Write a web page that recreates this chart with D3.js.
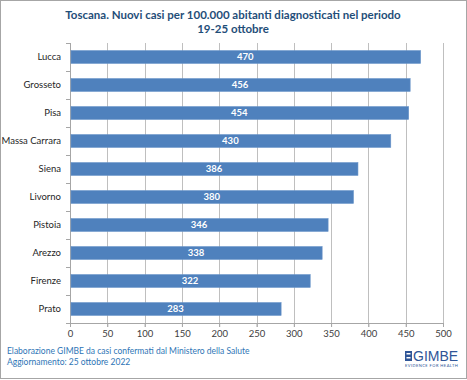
<!DOCTYPE html>
<html>
<head>
<meta charset="utf-8">
<script src="https://cdn.jsdelivr.net/npm/d3@7"></script>
<style>
  body { margin: 0; background: #fff; }
  svg { display: block; font-family: Lato, "Open Sans", "Liberation Sans", sans-serif; }
</style>
</head>
<body>
<svg id="chart" width="467" height="380"></svg>
<script>
// data
var provinces = ["Lucca", "Grosseto", "Pisa", "Massa Carrara", "Siena", "Livorno", "Pistoia", "Arezzo", "Firenze", "Prato"];
var cases = [470, 456, 454, 430, 386, 380, 346, 338, 322, 283];
var xTicks = [0, 50, 100, 150, 200, 250, 300, 350, 400, 450, 500];
var titleLines = ["Toscana. Nuovi casi per 100.000 abitanti diagnosticati nel periodo", "19-25 ottobre"];
var footLines = ["Elaborazione GIMBE da casi confermati dal Ministero della Salute", "Aggiornamento: 25 ottobre 2022"];

var svg = d3.select("#chart");
var plotLeft = 70, plotRight = 443, plotTop = 43, plotBottom = 323;

// frame
svg.append("rect")
    .attr("x", 0.5).attr("y", 0.5)
    .attr("width", 466).attr("height", 378)
    .attr("fill", "#fff")
    .attr("stroke", "#a6a6a6");

var x = d3.scaleLinear().domain([0, 500]).range([plotLeft, plotRight]);
var y = d3.scaleBand().domain(provinces).range([plotTop, plotBottom]).paddingInner(0.54).paddingOuter(0.27);

// title
svg.append("g").selectAll("text")
    .data(titleLines)
    .enter()
    .append("text")
    .attr("x", 233)
    .attr("y", function (d, i) {return 19 + i * 14;})
    .attr("text-anchor", "middle")
    .attr("font-size", 11.5)
    .attr("font-weight", "bold")
    .attr("fill", "#1f4e79")
    .text(function (d) {return d;});

// gridlines
svg.append("g").selectAll("line")
    .data(xTicks)
    .enter()
    .append("line")
    .attr("x1", function (d) {return Math.round(x(d)) + 0.5;})
    .attr("x2", function (d) {return Math.round(x(d)) + 0.5;})
    .attr("y1", plotTop)
    .attr("y2", plotBottom + 4)
    .attr("stroke", "#bfbfbf");

// bottom axis
var xAxis = svg.append("g")
    .attr("transform", "translate(0," + plotBottom + ")")
    .call(d3.axisBottom(x).tickValues(xTicks).tickSize(4).tickSizeOuter(0));
xAxis.select(".domain").attr("stroke", "#a6a6a6");
xAxis.selectAll(".tick line").attr("stroke", "#a6a6a6");
xAxis.selectAll("text")
    .attr("font-size", 9.5)
    .attr("fill", "#404040")
    .attr("font-family", "Lato, 'Open Sans', sans-serif");

// left axis with ticks at band boundaries
var step = y.step();
var bounds = d3.range(provinces.length + 1).map(function (i) {return plotTop + i * step;});
svg.append("line")
    .attr("x1", plotLeft + 0.5).attr("x2", plotLeft + 0.5)
    .attr("y1", plotTop).attr("y2", plotBottom)
    .attr("stroke", "#a6a6a6");
svg.append("g").selectAll("line")
    .data(bounds)
    .enter()
    .append("line")
    .attr("x1", plotLeft - 4).attr("x2", plotLeft)
    .attr("y1", function (d) {return Math.round(d) + 0.5;})
    .attr("y2", function (d) {return Math.round(d) + 0.5;})
    .attr("stroke", "#a6a6a6");

svg.append("g").selectAll("text")
    .data(provinces)
    .enter()
    .append("text")
    .attr("x", plotLeft - 9)
    .attr("y", function (d) {return y(d) + y.bandwidth() / 2;})
    .attr("dy", "0.35em")
    .attr("text-anchor", "end")
    .attr("font-size", 9.5)
    .attr("fill", "#262626")
    .text(function (d) {return d;});

// bars
var bars = svg.append("g").selectAll("g")
    .data(provinces)
    .enter()
    .append("g");

bars.append("rect")
    .attr("x", x(0) + 1)
    .attr("y", function (d) {return y(d);})
    .attr("width", function (d, i) {return x(cases[i]) - x(0) - 1;})
    .attr("height", y.bandwidth())
    .attr("fill", "#4f81bd")
    .attr("stroke", "#6a95c9")
    .attr("stroke-width", 0.6);

bars.append("text")
    .attr("x", function (d, i) {return x(cases[i] / 2);})
    .attr("y", function (d) {return y(d) + y.bandwidth() / 2;})
    .attr("dy", "0.36em")
    .attr("text-anchor", "middle")
    .attr("font-size", 9.5)
    .attr("font-weight", "bold")
    .attr("fill", "#fff")
    .text(function (d, i) {return cases[i];});

// footer
svg.append("g").selectAll("text")
    .data(footLines)
    .enter()
    .append("text")
    .attr("x", 7)
    .attr("y", function (d, i) {return 354 + i * 11;})
    .attr("font-size", 8.5)
    .attr("fill", "#2e75b6")
    .text(function (d) {return d;});

// logo
var logo = svg.append("g").attr("transform", "translate(405,349)");
logo.append("rect").attr("x", 0).attr("y", 2).attr("width", 7).attr("height", 10).attr("fill", "#2f5597");
logo.append("rect").attr("x", 1.5).attr("y", 4).attr("width", 4).attr("height", 1.5).attr("fill", "#fff");
logo.append("rect").attr("x", 1.5).attr("y", 8).attr("width", 4).attr("height", 1.5).attr("fill", "#fff");
logo.append("text")
    .attr("x", 8).attr("y", 12)
    .attr("font-size", 14)
    .attr("font-family", "'Liberation Sans Narrow', 'Liberation Sans', sans-serif")
    .attr("fill", "#2f5597")
    .text("GIMBE");
logo.append("text")
    .attr("x", 0).attr("y", 18)
    .attr("font-size", 4)
    .attr("letter-spacing", 0.45)
    .attr("fill", "#2f5597")
    .text("EVIDENCE FOR HEALTH");
</script>
</body>
</html>
